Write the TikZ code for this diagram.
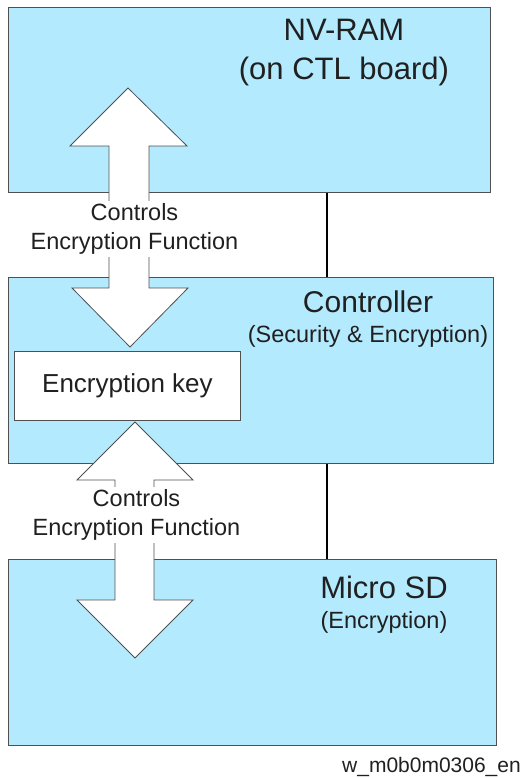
\documentclass[tikz,border=0pt]{standalone}
\usepackage{fontspec}
\setmainfont{Liberation Sans}
\definecolor{boxfill}{HTML}{B3EAFD}
\definecolor{edge}{HTML}{505050}
\definecolor{txt}{HTML}{202020}
\begin{document}
\begin{tikzpicture}[x=1pt,y=-1pt,
  block/.style={draw=edge,line width=0.9pt,fill=boxfill,anchor=north west,inner sep=0pt},
  keybox/.style={draw=edge,line width=0.9pt,fill=white,anchor=north west,inner sep=0pt,
     minimum width=226pt,minimum height=69pt,text=txt,font=\fontsize{26}{30}\selectfont},
  bigarrow/.style={draw=edge,line width=0.8pt,fill=white,line join=miter},
  title/.style={text=txt,align=center,inner sep=0pt},
  lbl/.style={fill=white,text=txt,align=center,inner sep=3pt,font=\fontsize{23.5}{29}\selectfont},
  conn/.style={draw=black,line width=2pt}
]
\useasboundingbox (0,0) rectangle (526,778);
% blocks
\node[block,minimum width=482pt,minimum height=185pt] (nvram) at (8,7) {};
\node[block,minimum width=485pt,minimum height=186pt] (ctrl) at (8,277) {};
\node[block,minimum width=488pt,minimum height=186pt] (sd) at (8,559) {};
% connector line
\coordinate (cx) at (327,0);
\draw[conn] (nvram.south -| cx) -- (ctrl.north -| cx);
\draw[conn] (ctrl.south -| cx) -- (sd.north -| cx);
% titles
\node[title,font=\fontsize{31}{39}\selectfont] (nvt) at (344,53) {NV-RAM\\(on CTL board)};
\node[title,font=\fontsize{30}{34}\selectfont] (ct) at (368,302) {Controller};
\node[title,font=\fontsize{23.5}{28}\selectfont] (cs) at (368,336) {(Security \& Encryption)};
\node[title,font=\fontsize{31}{36}\selectfont] (st) at (384,587) {Micro SD};
\node[title,font=\fontsize{23.5}{28}\selectfont] (ss) at (384,622) {(Encryption)};
% key box
\node[keybox] (key) at (14,351) {Encryption key};
% upper double arrow
\draw[bigarrow] (109,146) -- (70,146) -- (128,88) -- (187,146) -- (149,146)
  -- (149,288) -- (188,288) -- (130,347) -- (72,288) -- (109,288) -- cycle;
% lower double arrow
\draw[bigarrow] (115,480) -- (77,480) -- (135,422) -- (193,480) -- (154,480)
  -- (154,600) -- (193,600) -- (135,658) -- (77,600) -- (115,600) -- cycle;
% arrow labels
\node[lbl] (l1) at (134.5,229) {Controls\\Encryption Function};
\node[lbl] (l2) at (136.5,515) {Controls\\Encryption Function};
% footer
\node[title,anchor=east,font=\fontsize{21}{24}\selectfont] (foot) at (521,767) {w\_m0b0m0306\_en};
\end{tikzpicture}
\end{document}
